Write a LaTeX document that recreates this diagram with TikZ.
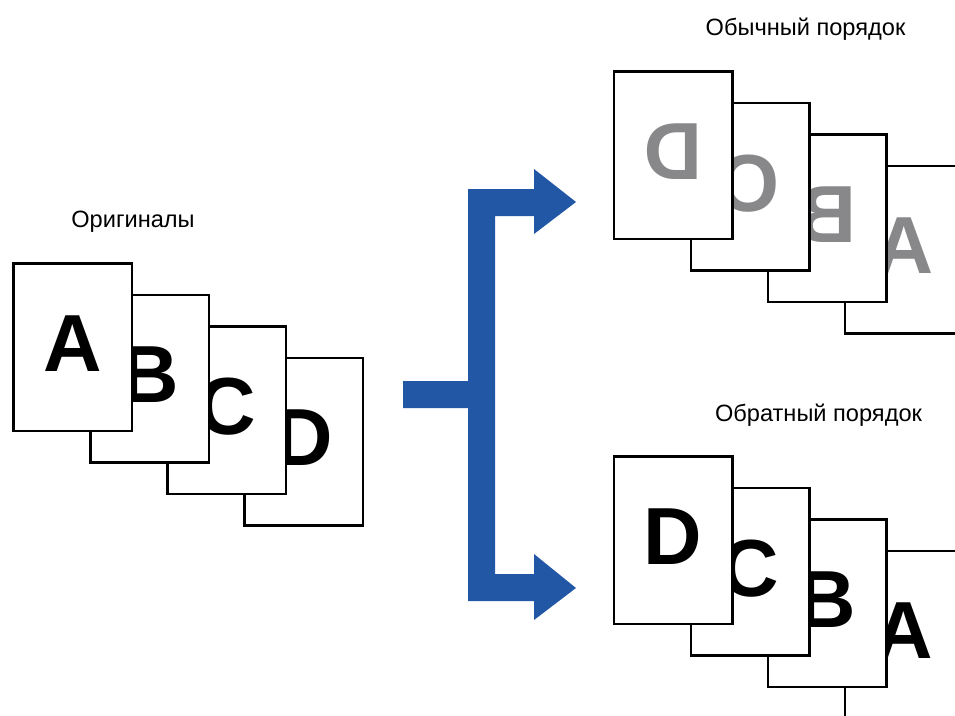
\documentclass[tikz,border=0pt]{standalone}
\usepackage{fontspec}
\setmainfont{Liberation Sans}
\usepackage{graphicx}
\usepackage{tikz}
\definecolor{arrowblue}{RGB}{34,87,166}
\definecolor{mirrorgray}{RGB}{136,136,138}

\begin{document}
\begin{tikzpicture}[x=1pt,y=-1pt,
sheet/.style={draw,fill=white,line width=2.5pt,minimum width=118.5pt,minimum height=167.5pt,inner sep=0pt,text depth=7pt,font=\fontsize{81}{81}\selectfont\bfseries},
mirrored/.style={sheet,text=mirrorgray},
caption/.style={anchor=base,font=\fontsize{23.6}{28}\selectfont}]
\useasboundingbox (0,0) rectangle (955,715);
\clip (0,0) rectangle (955,715);
\foreach \i/\l in {3/D,2/C,1/B,0/A} {
   \node[sheet] (o\l) at ({72.5+77*\i},{347+31.5*\i}) {\l};
}
\foreach \i/\l in {3/A,2/B,1/C,0/D} {
   \node[mirrored] (n\l) at ({673+77*\i},{155+31.5*\i}) {\reflectbox{\l}};
}
\foreach \i/\l in {3/A,2/B,1/C,0/D} {
   \node[sheet] (r\l) at ({673+77*\i},{540+31.5*\i}) {\l};
}
\fill[arrowblue] (403,381) -- (468,381) -- (468,189) -- (534,189) -- (534,169)
   -- (576,202) -- (534,234) -- (534,216) -- (495,216) -- (495,574)
   -- (534,574) -- (534,554) -- (576,588) -- (534,620) -- (534,601)
   -- (468,601) -- (468,408) -- (403,408) -- cycle;
\node[caption] (orig) at (133,227) {Оригиналы};
\node[caption] (normal) at (805.5,35) {Обычный порядок};
\node[caption] (reverse) at (818.5,421) {Обратный порядок};
\end{tikzpicture}
\end{document}
